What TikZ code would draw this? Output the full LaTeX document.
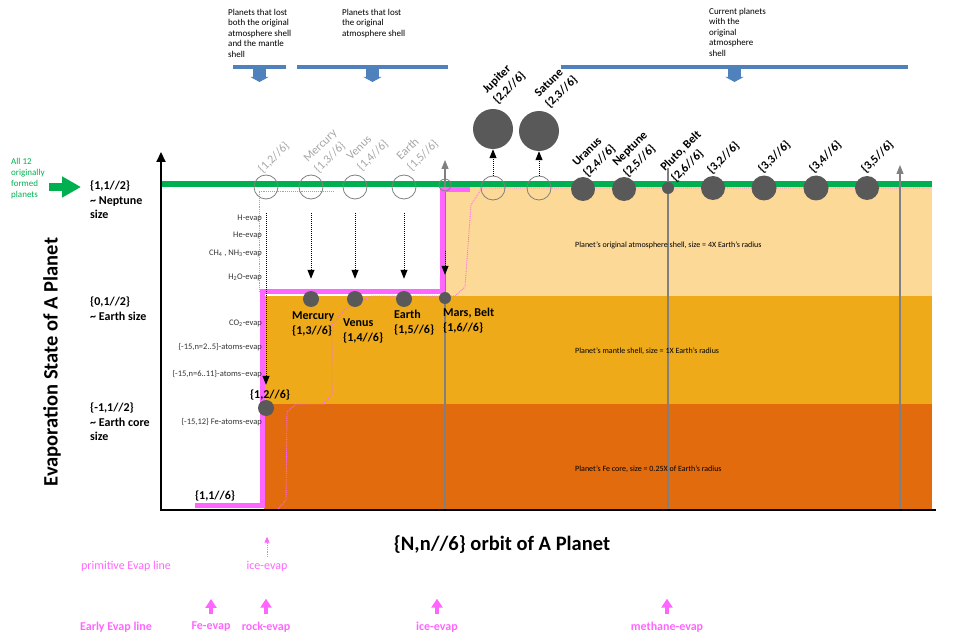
\documentclass[tikz,border=0pt]{standalone}
\usepackage{fontspec}
\setmainfont{Carlito}
\usetikzlibrary{arrows.meta}
\definecolor{atmoshell}{HTML}{FDD998}
\definecolor{mantleshell}{HTML}{EEAA18}
\definecolor{fecore}{HTML}{E26B0D}
\definecolor{orbitgreen}{HTML}{00B050}
\definecolor{evappink}{HTML}{FF66FF}
\definecolor{planetgrey}{HTML}{595959}
\definecolor{lostgrey}{HTML}{A6A6A6}
\definecolor{linegrey}{HTML}{808080}
\definecolor{groupblue}{HTML}{4F81BD}

\begin{document}
\begin{tikzpicture}[x=1pt, y=-1pt,
        note/.style={font=\fontsize{9}{10.5}\selectfont, align=left, anchor=north west, inner sep=0pt},
        evap/.style={font=\fontsize{8.5}{10}\selectfont, anchor=east, inner sep=0pt, text=black!80},
        shelltext/.style={font=\fontsize{8}{9}\selectfont, anchor=west, inner sep=0pt},
        sizetext/.style={font=\bfseries\fontsize{12}{14.5}\selectfont, align=left, anchor=north west, inner sep=0pt},
        pname/.style={font=\bfseries\fontsize{12}{15}\selectfont, align=left, inner sep=0pt},
        tilted/.style={pname, rotate=45, anchor=south west},
        lost/.style={tilted, font=\fontsize{12}{15}\selectfont, text=lostgrey},
        title/.style={font=\bfseries\fontsize{20.5}{24}\selectfont, inner sep=0pt},
        planet/.style={circle, fill=planetgrey, inner sep=0pt, minimum size=#1},
        ghost/.style={circle, draw=linegrey, line width=0.8pt, inner sep=0pt, minimum size=#1},
        fall/.style={densely dotted, line width=1pt, -{Triangle[width=7pt,length=9pt]}},
        primline/.style={evappink, densely dotted, line width=0.9pt},
        orbitline/.style={linegrey, line width=1.2pt},
        orbitup/.style={orbitline, -{Triangle[width=7pt,length=9pt]}},
        group/.style={groupblue, line width=4pt},
        groupdown/.style={groupblue, line width=13pt, -{Triangle[width=18pt,length=5pt]}},
        pinktext/.style={font=\fontsize{12}{14}\selectfont, text=evappink, inner sep=0pt},
        pinkbold/.style={pinktext, font=\bfseries\fontsize{12}{14}\selectfont},
        pinkup/.style={evappink, line width=4pt, -{Triangle[width=11pt,length=9pt]}}]
  \useasboundingbox (0,0) rectangle (953,636);

  \fill[atmoshell] (445,187) rectangle (932,296);
  \fill[mantleshell] (264,296) rectangle (932,404);
  \fill[fecore] (264,404) rectangle (932,509);

  \draw[line width=2.5pt] (160,510) -- (936,510);
  \draw[line width=2.2pt, -{Triangle[width=9pt,length=10pt]}] (161,511) -- (161,152);

  \draw[primline] (278,509) -- (286,500) -- (287,412) -- (296,404) -- (323,404) -- (332,395) -- (332,325) -- (345,309) -- (372,296) -- (455,296) -- (465,287) -- (471,205) -- (482,188) -- (932,188);
  \draw[primline] (259,292) -- (259,191) -- (333,191);

  \draw[orbitgreen, line width=6pt] (162,184) -- (932,184);

  \coordinate (marsfoot) at (445,509);
  \coordinate (marstop) at (445,160);
  \coordinate (plutofoot) at (668,509);
  \coordinate (plutotop) at (668,168);
  \coordinate (outerfoot) at (900,509);
  \coordinate (outertop) at (900,165);
  \draw[orbitup] (marsfoot) -- (marstop);
  \draw[orbitline] (plutofoot) -- (plutotop);
  \draw[orbitup] (outerfoot) -- (outertop);

  \draw[evappink, line width=5pt] (195,505) -- (262,505) -- (262,292) -- (442,292) -- (442,190) -- (470,190);

  \node[ghost=24pt] (g12) at (266,187) {};
  \node[ghost=24pt] (gmercury) at (311,187) {};
  \node[ghost=24pt] (gvenus) at (355,187) {};
  \node[ghost=24pt] (gearth) at (404,187) {};
  \node[ghost=12pt] (gmars) at (445,185) {};
  \node[ghost=24pt] (gjupiter) at (493,188) {};
  \node[ghost=24pt] (gsatune) at (539,188) {};

  \node[planet=40pt] (jupiter) at (493,129) {};
  \node[planet=40pt] (satune) at (539,131) {};
  \node[planet=24pt] (uranus) at (583,189) {};
  \node[planet=24pt] (neptune) at (624,189) {};
  \node[planet=12pt] (pluto) at (668,188) {};
  \node[planet=24pt] (p32) at (713,188) {};
  \node[planet=25pt] (p33) at (764,188) {};
  \node[planet=25pt] (p34) at (816,188) {};
  \node[planet=24pt] (p35) at (867,188) {};
  \node[planet=16pt] (mercury) at (311,299) {};
  \node[planet=16pt] (venus) at (355,299) {};
  \node[planet=16pt] (earth) at (404,299) {};
  \node[planet=12pt] (mars) at (445,298) {};
  \node[planet=16pt] (p12) at (266,408) {};

  \draw[fall, shorten <=14pt, shorten >=15pt] (g12) -- (p12);
  \draw[fall, shorten <=14pt, shorten >=12pt] (gmercury) -- (mercury);
  \draw[fall, shorten <=14pt, shorten >=12pt] (gvenus) -- (venus);
  \draw[fall, shorten <=14pt, shorten >=12pt] (gearth) -- (earth);
  \draw[fall, shorten <=60pt, shorten >=17pt] (gmars) -- (mars);
  \draw[fall] (gjupiter) -- (jupiter);
  \draw[fall] (gsatune) -- (satune);

  \node[lost] (l12) at (264,175) {\{1,2//6\}};
  \node[lost] (lmercury) at (320,175) {Mercury\\\{1,3//6\}};
  \node[lost] (lvenus) at (363,173) {Venus\\\{1,4//6\}};
  \node[lost] (learth) at (413,173) {Earth\\\{1,5//6\}};
  \node[tilted] (ljupiter) at (499,106) {Jupiter\\\{2,2//6\}};
  \node[tilted] (lsatune) at (551,110) {Satune\\\{2,3//6\}};
  \node[tilted] (luranus) at (589,179) {Uranus\\\{2,4//6\}};
  \node[tilted] (lneptune) at (629,179) {Neptune\\\{2,5//6\}};
  \node[tilted] (lpluto) at (677,184) {Pluto, Belt\\\{2,6//6\}};
  \node[tilted] (l32) at (713,176) {\{3,2//6\}};
  \node[tilted] (l33) at (764,175) {\{3,3//6\}};
  \node[tilted] (l34) at (815,175) {\{3,4//6\}};
  \node[tilted] (l35) at (867,175) {\{3,5//6\}};

  \node[pname, anchor=north west] (nmercury) at (292,312) {Mercury\\\{1,3//6\}};
  \node[pname, anchor=north west] (nvenus) at (343,319) {Venus\\\{1,4//6\}};
  \node[pname, anchor=north west] (nearth) at (394,310) {Earth\\\{1,5//6\}};
  \node[pname, anchor=north west] (nmars) at (443,308) {Mars, Belt\\\{1,6//6\}};
  \node[pname] (n12) at (270,395) {\{1,2//6\}};
  \node[pname] (n11) at (215,496) {\{1,1//6\}};

  \node[shelltext] (atmotext) at (575,245) {Planet’s original atmosphere shell, size = 4X Earth’s radius};
  \node[shelltext] (mantletext) at (575,351) {Planet’s mantle shell, size = 1X Earth’s radius};
  \node[shelltext] (coretext) at (575,469) {Planet’s Fe core, size = 0.25X of Earth’s radius};

  \node[evap] (hevap) at (262,218) {H-evap};
  \node[evap] (heevap) at (262,235) {He-evap};
  \node[evap] (ch4evap) at (262,253) {CH\textsubscript{4} , NH\textsubscript{3}-evap};
  \node[evap] (h2oevap) at (262,277) {H\textsubscript{2}O-evap};
  \node[evap] (co2evap) at (262,323) {CO\textsubscript{2}-evap};
  \node[evap] (lightevap) at (262,347) {\{-15,n=2..5\}-atoms-evap};
  \node[evap] (midevap) at (262,374) {\{-15,n=6..11\}-atoms–evap};
  \node[evap] (featoms) at (262,422) {\{-15,12\} Fe-atoms-evap};

  \node[sizetext] (neptunesize) at (90,181) {\{1,1//2\}\\\textasciitilde{} Neptune\\size};
  \node[sizetext] (earthsize) at (90,297) {\{0,1//2\}\\\textasciitilde{} Earth size};
  \node[sizetext] (coresize) at (90,403) {\{-1,1//2\}\\\textasciitilde{} Earth core\\size};

  \node[note, text=orbitgreen, font=\fontsize{9}{11}\selectfont] (alltwelve) at (11,158) {All 12\\originally\\formed\\planets};
  \coordinate (greentail) at (49,187);
  \coordinate (greenhead) at (81,187);
  \draw[orbitgreen, line width=8pt, -{Triangle[width=20pt,length=19pt]}] (greentail) -- (greenhead);

  \node[note] (lostboth) at (228,9) {Planets that lost\\both the original\\atmosphere shell\\and the mantle\\shell};
  \node[note] (lostatmo) at (342,9) {Planets that lost\\the original\\atmosphere shell};
  \node[note] (keptatmo) at (709,8) {Current planets\\with the\\original\\atmosphere\\shell};
  \draw[group] (233,67) -- node[coordinate] (bothmid) {} (286,67);
  \draw[group] (297,67) -- node[coordinate] (atmomid) {} (448,67);
  \draw[group] (561,67) -- node[coordinate] (keptmid) {} (908,67);
  \draw[groupdown] (bothmid) -- ++(0,15);
  \draw[groupdown] (atmomid) -- ++(0,15);
  \draw[groupdown] (keptmid) -- ++(0,15);

  \node[title, rotate=90] (ytitle) at (52,362) {Evaporation State of A Planet};
  \node[title] (xtitle) at (502,545) {\{N,n//6\} orbit of A Planet};

  \node[pinktext] (primtext) at (126,566) {primitive Evap line};
  \node[pinktext] (iceprim) at (267,566) {ice-evap};
  \draw[evappink, densely dotted, line width=0.8pt, -{Triangle[width=5pt,length=6pt]}, shorten <=4pt] (iceprim.north) -- ++(0,-24);

  \node[pinkbold] (earlytext) at (116,627) {Early Evap line};
  \node[pinkbold] (feevap) at (211,627) {Fe-evap};
  \node[pinkbold] (rockevap) at (266,627) {rock-evap};
  \node[pinkbold] (iceevap) at (437,627) {ice-evap};
  \node[pinkbold] (methaneevap) at (667,627) {methane-evap};
  \draw[pinkup, shorten <=8pt] (feevap.north) -- ++(0,-23);
  \draw[pinkup, shorten <=8pt] (rockevap.north) -- ++(0,-23);
  \draw[pinkup, shorten <=8pt] (iceevap.north) -- ++(0,-23);
  \draw[pinkup, shorten <=8pt] (methaneevap.north) -- ++(0,-23);
\end{tikzpicture}
\end{document}
